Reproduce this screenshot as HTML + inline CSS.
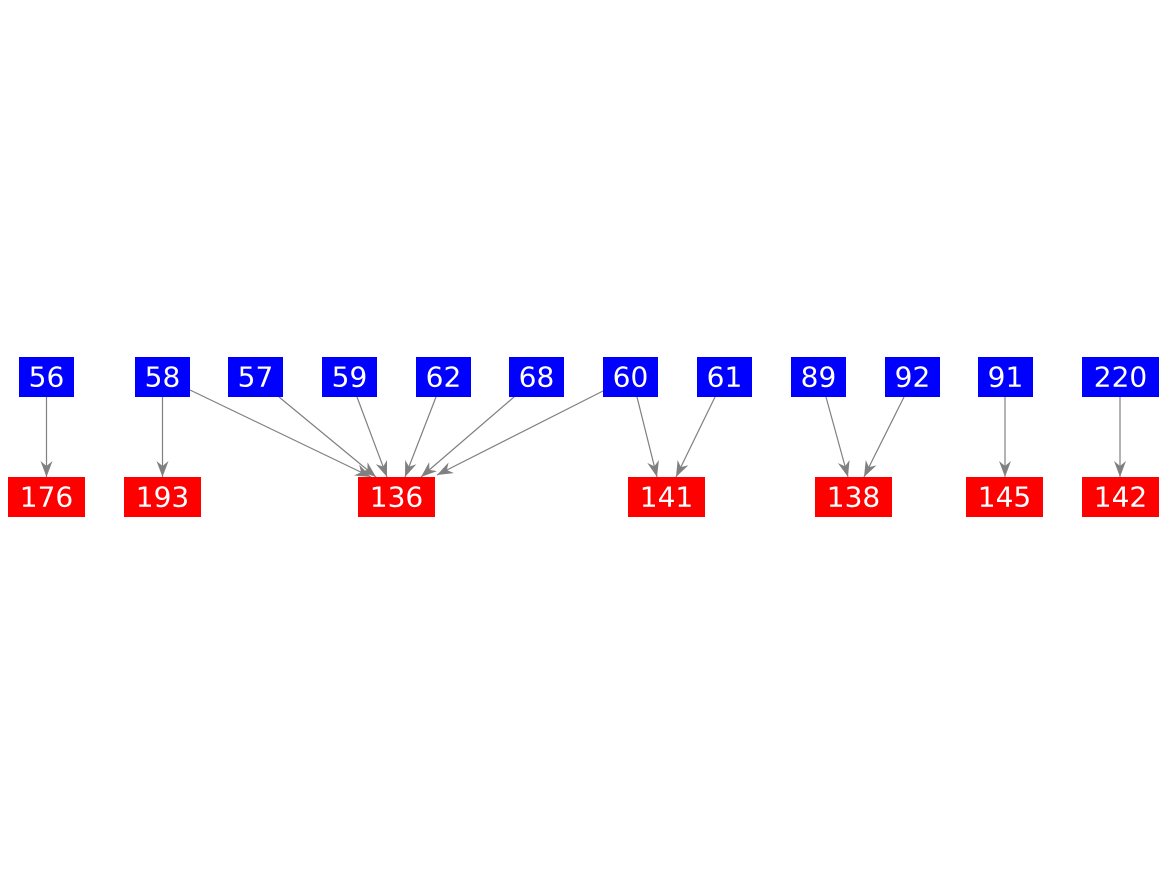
<!DOCTYPE html>
<html><head><meta charset="utf-8"><style>
html,body{margin:0;padding:0;background:#fff;}
svg{display:block}
text{font-family:"DejaVu Sans","Liberation Sans",sans-serif;font-size:28px;fill:#fff;text-anchor:middle;dominant-baseline:central}
</style></head><body>
<svg width="1167" height="875" viewBox="0 0 1167 875">
<defs><marker id="a" viewBox="0 0 16 12" refX="16" refY="6" markerWidth="16" markerHeight="12" markerUnits="userSpaceOnUse" orient="auto"><path d="M0,0 L16,6 L0,12 L5,6 z" fill="#808080"/></marker></defs>
<g stroke="#808080" stroke-width="1.2" fill="none">
<line x1="46.5" y1="397" x2="46.5" y2="477" marker-end="url(#a)"/>
<line x1="162.5" y1="397" x2="162.5" y2="477" marker-end="url(#a)"/>
<line x1="190" y1="390" x2="371" y2="477" marker-end="url(#a)"/>
<line x1="279" y1="397" x2="376" y2="477" marker-end="url(#a)"/>
<line x1="357" y1="397" x2="387" y2="477" marker-end="url(#a)"/>
<line x1="436" y1="397" x2="405" y2="477" marker-end="url(#a)"/>
<line x1="514" y1="397" x2="421" y2="477" marker-end="url(#a)"/>
<line x1="603" y1="391" x2="437" y2="475" marker-end="url(#a)"/>
<line x1="637" y1="397" x2="657" y2="477" marker-end="url(#a)"/>
<line x1="715" y1="397" x2="676" y2="477" marker-end="url(#a)"/>
<line x1="826" y1="397" x2="848" y2="477" marker-end="url(#a)"/>
<line x1="904" y1="397" x2="864" y2="477" marker-end="url(#a)"/>
<line x1="1005" y1="397" x2="1005" y2="477" marker-end="url(#a)"/>
<line x1="1120" y1="397" x2="1120" y2="477" marker-end="url(#a)"/>
</g>
<g fill="#0000ff">
<rect x="19" y="357" width="55" height="40"/>
<rect x="135" y="357" width="55" height="40"/>
<rect x="228" y="357" width="55" height="40"/>
<rect x="322" y="357" width="55" height="40"/>
<rect x="416" y="357" width="55" height="40"/>
<rect x="509" y="357" width="55" height="40"/>
<rect x="603" y="357" width="55" height="40"/>
<rect x="697" y="357" width="55" height="40"/>
<rect x="791" y="357" width="55" height="40"/>
<rect x="885" y="357" width="55" height="40"/>
<rect x="978" y="357" width="55" height="40"/>
<rect x="1082" y="357" width="77" height="40"/>
</g>
<g fill="#ff0000">
<rect x="8" y="477" width="77" height="40"/>
<rect x="124" y="477" width="77" height="40"/>
<rect x="358" y="477" width="77" height="40"/>
<rect x="628" y="477" width="77" height="40"/>
<rect x="815" y="477" width="77" height="40"/>
<rect x="966" y="477" width="77" height="40"/>
<rect x="1082" y="477" width="77" height="40"/>
</g>
<text x="46.5" y="377">56</text>
<text x="162.5" y="377">58</text>
<text x="255.5" y="377">57</text>
<text x="349.5" y="377">59</text>
<text x="443.5" y="377">62</text>
<text x="536.5" y="377">68</text>
<text x="630.5" y="377">60</text>
<text x="724.5" y="377">61</text>
<text x="818.5" y="377">89</text>
<text x="912.5" y="377">92</text>
<text x="1005.5" y="377">91</text>
<text x="1120.5" y="377">220</text>
<text x="46.5" y="497">176</text>
<text x="162.5" y="497">193</text>
<text x="396.5" y="497">136</text>
<text x="666.5" y="497">141</text>
<text x="853.5" y="497">138</text>
<text x="1004.5" y="497">145</text>
<text x="1120.5" y="497">142</text>
</svg>
</body></html>
